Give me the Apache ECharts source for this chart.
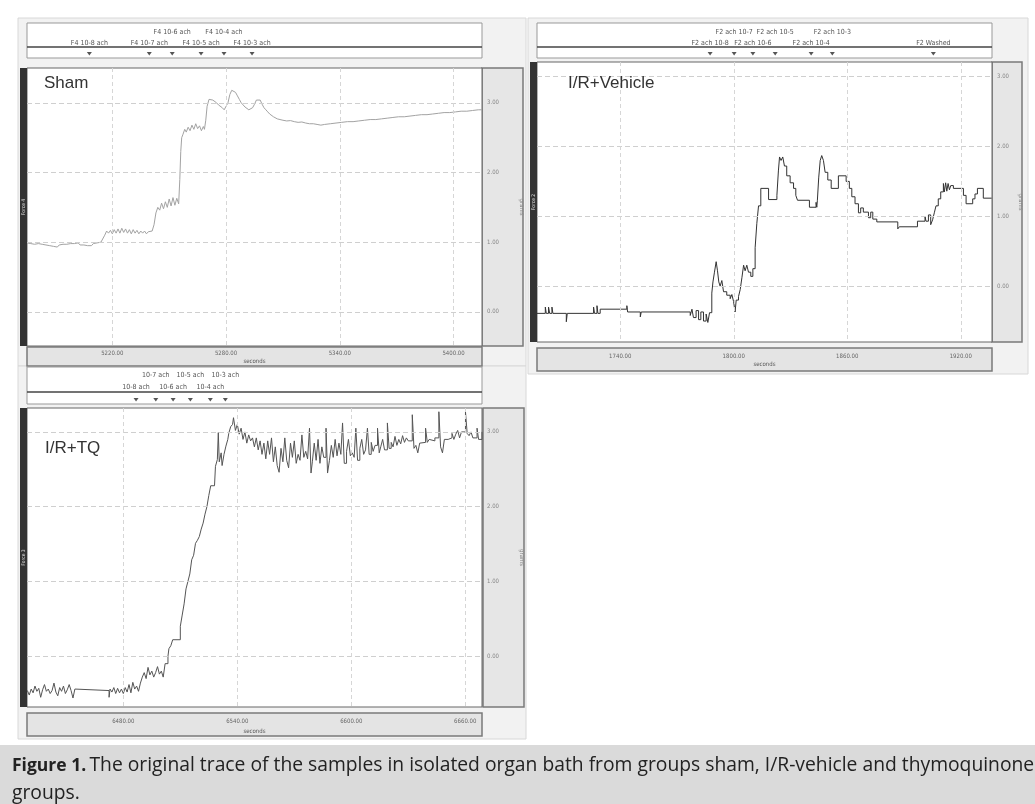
<!DOCTYPE html>
<html><head><meta charset="utf-8">
<script src="https://cdn.jsdelivr.net/npm/echarts@6/dist/echarts.min.js"></script>
<style>html,body{margin:0;padding:0;background:#fff}#c{width:1035px;height:804px}</style>
</head><body><div id="c"></div>
<script>
// ---------- DATA ----------
const yTicks = [0, 1, 2, 3];
const shamXTicks = [5220, 5280, 5340, 5400];
const vehXTicks = [1740, 1800, 1860, 1920];
const tqXTicks = [6480, 6540, 6600, 6660];

const shamEventTimes = [5207.9, 5239.5, 5251.6, 5266.8, 5278.9, 5293.7];
const shamEventLabels = ['F4 10-8 ach', 'F4 10-7 ach', 'F4 10-6 ach', 'F4 10-5 ach', 'F4 10-4 ach', 'F4 10-3 ach'];
const vehEventTimes = [1787.5, 1800.2, 1810.1, 1821.9, 1840.9, 1852.1, 1905.5];
const vehEventLabels = ['F2 ach 10-8', 'F2 ach 10-7', 'F2 ach 10-6', 'F2 ach 10-5', 'F2 ach 10-4', 'F2 ach 10-3', 'F2 Washed'];
const tqEventTimes = [6486.7, 6497.1, 6506.2, 6515.3, 6525.8, 6533.7];
const tqEventLabels = ['10-8 ach', '10-7 ach', '10-6 ach', '10-5 ach', '10-4 ach', '10-3 ach'];

// [seconds, grams]
const shamTrace = [
[5175,0.99],[5176,1.01],[5177,0.98],[5178,1.00],[5179,0.97],[5180,0.99],[5181,0.98],[5182,1.00],[5183,0.97],[5184,0.98],
[5185,0.96],[5186,0.98],[5187,0.95],[5188,0.97],[5189,0.94],[5190,0.96],[5191,0.93],[5192,0.96],[5193,0.94],[5194,0.97],
[5195,0.95],[5196,0.97],[5197,0.95],[5198,0.98],[5199,0.96],[5200,0.98],[5201,0.96],[5202,0.99],[5203,0.96],[5204,0.98],
[5205,0.96],[5206,0.98],[5207,0.95],[5208,0.97],[5209,0.95],[5210,0.98],[5211,0.96],[5212,0.99],[5213,0.98],[5214,1.00],
[5215,1.02],[5216,1.10],[5217,1.16],[5218,1.13],[5219,1.17],[5220,1.12],[5221,1.18],[5222,1.13],[5223,1.19],[5224,1.13],[5225,1.20],
[5226,1.14],[5227,1.19],[5228,1.13],[5229,1.18],[5230,1.12],[5231,1.18],[5232,1.13],[5233,1.17],[5234,1.12],[5235,1.16],
[5236,1.13],[5237,1.16],[5238,1.12],[5239,1.15],[5240,1.13],[5241,1.16],
[5242,1.25],[5243,1.42],[5244,1.50],[5245,1.46],[5246,1.56],[5247,1.48],[5248,1.58],[5249,1.50],[5250,1.62],[5251,1.52],
[5252,1.64],[5253,1.53],[5254,1.63],[5255,1.55],
[5255.6,1.90],[5256.1,2.30],[5256.6,2.50],[5257.3,2.55],[5258.2,2.62],[5259,2.58],[5260,2.65],[5261,2.60],[5262,2.68],
[5263,2.62],[5264,2.70],[5265,2.63],[5266,2.67],[5267,2.60],[5268,2.66],[5268.6,2.62],
[5269.3,2.75],[5270,2.95],[5271,3.05],[5272,3.07],[5273,3.04],[5274,3.05],[5275,3.00],[5276,2.97],[5277,2.99],[5278,2.93],
[5279,2.90],[5280,2.92],[5281,3.00],[5282,3.12],[5283,3.18],[5284,3.20],[5285,3.15],[5286,3.10],[5287,3.05],[5288,3.00],
[5289,2.97],[5290,2.94],[5291,2.92],[5292,2.90],[5293,2.91],[5294,2.93],[5295,2.98],[5296,3.04],[5297,3.05],[5298,3.04],
[5299,2.98],[5300,2.93],[5301,2.90],[5302,2.87],[5303,2.84],[5304,2.82],[5305,2.80],[5306,2.78],[5307,2.77],[5308,2.76],
[5310,2.75],[5312,2.74],[5314,2.745],[5316,2.73],[5318,2.72],[5320,2.725],[5322,2.71],[5324,2.70],[5325,2.69],[5326,2.70],
[5328,2.69],[5330,2.68],[5332,2.69],[5335,2.70],[5338,2.71],[5341,2.72],[5344,2.73],[5347,2.73],[5350,2.74],[5353,2.75],
[5356,2.76],[5359,2.76],[5362,2.77],[5365,2.78],[5368,2.79],[5371,2.80],[5374,2.80],[5377,2.81],[5378,2.80],[5380,2.82],
[5383,2.83],[5386,2.83],[5389,2.84],[5392,2.85],[5395,2.86],[5398,2.86],[5401,2.87],[5404,2.88],[5407,2.88],[5410,2.89],
[5413,2.90],[5415,2.90]
];

const vehicleTrace = [
[1696.0,-0.39],[1700.4,-0.30],[1700.9,-0.39],[1702.1,-0.30],[1702.7,-0.39],[1703.9,-0.30],[1704.4,-0.39],
[1711.5,-0.51],[1712.0,-0.39],[1725.9,-0.30],[1726.4,-0.39],[1727.7,-0.28],[1728.2,-0.39],[1729.4,-0.33],
[1743.5,-0.28],[1743.9,-0.37],[1750.6,-0.44],[1751.1,-0.37],
[1777.0,-0.42],[1777.9,-0.33],[1778.7,-0.45],[1780.1,-0.35],[1781.4,-0.48],[1782.6,-0.37],[1784.0,-0.50],[1785.4,-0.40],
[1786.3,-0.52],[1787.2,-0.38],[1788.4,-0.10],[1789.0,0.06],[1789.8,0.20],[1790.7,0.35],[1791.4,0.22],[1792.1,0.06],
[1792.8,0.00],[1793.7,0.08],[1794.6,-0.08],[1796.3,-0.13],[1798.1,-0.18],[1799.0,-0.12],[1799.9,-0.22],[1800.7,-0.37],
[1801.3,-0.20],[1802.5,-0.15],[1803.4,-0.05],[1804.3,0.12],[1805.2,0.30],[1806.0,0.22],[1806.9,0.30],[1807.8,0.20],
[1809.0,0.14],[1810.1,0.25],[1811.3,0.55],[1812.2,0.90],[1813.1,1.15],[1814.3,1.40],[1818.4,1.24],[1822.8,1.30],
[1823.6,1.65],[1824.2,1.85],[1825.0,1.80],[1825.9,1.85],[1826.8,1.72],[1828.0,1.58],[1829.8,1.48],[1831.6,1.40],
[1832.8,1.30],[1833.7,1.23],[1840.0,1.13],[1843.5,1.20],[1843.9,1.13],[1844.2,1.23],[1844.9,1.55],[1845.7,1.80],
[1846.5,1.87],[1847.4,1.80],[1848.3,1.63],[1849.7,1.52],[1851.5,1.40],[1855.3,1.58],[1859.4,1.50],[1861.1,1.40],
[1862.4,1.28],[1864.1,1.18],[1865.9,1.05],[1867.1,1.12],[1868.5,1.06],[1871.2,0.98],[1872.4,1.06],[1873.5,0.96],
[1875.6,0.92],[1886.7,0.82],[1887.5,0.85],[1897.1,0.93],[1901.1,1.00],[1901.6,0.93],[1902.9,1.02],[1904.1,0.88],
[1905.1,0.95],[1906.0,1.05],[1906.9,1.15],[1908.1,1.25],[1909.4,1.35],[1910.8,1.47],[1911.3,1.35],[1912.0,1.48],
[1912.6,1.36],[1913.3,1.47],[1914.0,1.38],[1914.7,1.44],[1916.1,1.40],[1921.4,1.30],[1922.8,1.18],[1926.3,1.25],
[1927.5,1.32],[1928.8,1.40],[1931.9,1.26],[1936.3,1.26]
];

const tqTrace = [
[6429.5,-0.46],[6430.5,-0.52],[6431.5,-0.44],[6432.5,-0.49],[6433.5,-0.40],[6434.5,-0.47],[6435.5,-0.43],[6436.5,-0.55],
[6437.5,-0.45],[6438.5,-0.38],[6439.5,-0.47],[6440.5,-0.44],[6441.5,-0.50],[6442.5,-0.46],[6443.5,-0.36],[6444.5,-0.48],
[6445.5,-0.53],[6446.5,-0.42],[6447.5,-0.47],[6448.5,-0.40],[6449.5,-0.50],[6450.5,-0.45],[6451.5,-0.38],[6452.5,-0.46],
[6453.5,-0.56],[6454.5,-0.44],[6455.5,-0.46],[6472.5,-0.55],[6473.0,-0.44],[6474,-0.48],[6475,-0.42],[6476,-0.50],
[6477,-0.43],[6478,-0.49],[6479,-0.44],[6480,-0.50],[6481,-0.42],[6482,-0.48],[6483,-0.38],[6484,-0.49],[6485,-0.35],
[6486,-0.44],[6487,-0.40],[6488,-0.47],[6489,-0.36],[6490,-0.28],[6491,-0.22],[6492,-0.30],[6493,-0.15],[6494,-0.25],
[6495,-0.20],[6496,-0.28],[6497,-0.22],[6498,-0.14],[6499,-0.24],[6500,-0.20],[6501,-0.28],[6502,-0.10],[6503.5,0.00],
[6504,0.10],[6505,0.14],[6506,0.22],[6510,0.40],[6511,0.55],[6512,0.70],[6513,0.90],[6514,1.00],[6515,1.10],[6516,1.29],
[6517,1.35],[6518,1.51],[6519,1.55],[6520,1.60],[6521,1.70],[6522,1.78],[6523,1.90],[6524,2.00],[6525,2.15],[6526,2.28],
[6528,2.30],[6528.5,2.54],[6529.5,2.63],[6530,2.99],[6530.5,2.60],[6531.5,2.72],[6532,2.55],[6533,2.70],[6534,2.81],
[6535,2.90],[6535.5,2.98],[6536.5,3.07],[6537.5,3.10],[6538,3.19],[6539,3.02],[6540,3.10],[6541,2.97],[6542,3.05],
[6543,2.90],[6544,3.00],[6545,2.85],[6546,2.96],[6547,2.88],[6548,2.92],[6549,2.80],[6550,2.92],[6551,2.76],[6552,2.88],
[6553,2.70],[6554,2.85],[6555,2.64],[6556,2.88],[6557,2.70],[6558,2.92],[6559,2.60],[6560,2.80],[6561,2.55],[6562,2.46],
[6563,2.78],[6564,2.60],[6565,2.92],[6566,2.62],[6567,2.52],[6568,2.85],[6569,2.66],[6570,2.88],[6571,2.58],[6572,2.70],
[6573,2.62],[6574,2.96],[6575,2.66],[6576,2.74],[6577,2.64],[6578,3.05],[6578.8,2.45],[6579.5,2.60],[6580.5,2.85],
[6581.5,2.62],[6582.5,2.90],[6583.5,2.58],[6584.5,2.80],[6585.5,2.66],[6586.7,3.05],[6587.5,2.45],[6588.5,2.62],
[6589.5,2.82],[6590.5,2.66],[6591.5,2.90],[6592.5,2.68],[6593.5,2.85],[6594.5,2.70],[6595.4,3.12],[6596.3,2.58],
[6597.5,2.74],[6598.5,2.90],[6599.5,2.68],[6600.5,2.72],[6601.5,2.66],[6602.4,3.05],[6603.3,2.62],[6604.5,2.78],
[6605.5,2.90],[6606.5,2.70],[6607.5,2.76],[6608.5,3.05],[6609.4,2.70],[6610.5,2.86],[6611.5,2.74],[6612.5,2.82],
[6613.8,3.05],[6614.7,2.72],[6615.5,2.80],[6616.5,2.90],[6617.5,2.76],[6619.0,3.12],[6619.9,2.78],[6621,2.86],[6622,2.80],
[6623,2.94],[6624,2.82],[6625,2.90],[6626,2.84],[6627,2.95],[6628,2.86],[6629,2.92],[6630,2.88],[6632.1,3.23],[6633,2.78],
[6634,2.82],[6635,2.72],[6636,2.85],[6637,2.86],[6639.1,3.05],[6640,2.86],[6641,2.90],[6642,2.88],[6644,2.92],[6646.1,3.27],
[6647,2.80],[6648,2.72],[6649,2.90],[6651,2.92],[6653,2.98],[6654,2.90],[6655,2.97],[6656,3.02],[6657,2.92],[6658,3.00],
[6660.1,3.27],[6661,2.98],[6662,2.95],[6663,3.00],[6664,2.92],[6666.2,3.05],[6667,2.90],[6668.8,3.00]
];

// ---------- LAYOUT ----------
const P = [
  { name:'Sham', force:'Force 4', trace:shamTrace, xt:shamXTicks, ev:shamEventTimes, evl:shamEventLabels,
    xmin:5175, xmax:5415, ymin:-0.49, ymax:3.5,
    plot:{x:27,y:68,w:455,h:278}, strip:{x:27,y:23,w:455,h:35}, div:11, axisBox:{y:347,h:19}, lblM:4, nameG:12,
    rp:{x:482,w:41}, color:'#a3a3a3', step:false, lab:{x:44,y:83}, box:{x:18,y:18,w:508,h:348} },
  { name:'I/R+Vehicle', force:'Force 2', trace:vehicleTrace, xt:vehXTicks, ev:vehEventTimes, evl:vehEventLabels,
    xmin:1696, xmax:1936.5, ymin:-0.8, ymax:3.21,
    plot:{x:537,y:62,w:455,h:280}, strip:{x:537,y:23,w:455,h:35}, div:11, axisBox:{y:348,h:23}, lblM:11, nameG:19,
    rp:{x:992,w:30}, color:'#333', step:'end', lab:{x:568,y:83}, box:{x:528,y:18,w:500,h:356} },
  { name:'I/R+TQ', force:'Force 3', trace:tqTrace, xt:tqXTicks, ev:tqEventTimes, evl:tqEventLabels,
    xmin:6429.3, xmax:6668.8, ymin:-0.68, ymax:3.32,
    plot:{x:27,y:408,w:455,h:299}, strip:{x:27,y:367,w:455,h:37}, div:12, axisBox:{y:713,h:23}, lblM:11, nameG:21,
    rp:{x:483,w:41}, color:'#555', step:'end', lab:{x:45,y:448}, box:{x:18,y:366,w:508,h:373} }
];

function rowsFor(times){ // upper row when too close to previous lower-row label
  const r=[]; let lastLow=-1e9;
  times.forEach(t=>{ if(t-lastLow<16){r.push(1);} else {r.push(0); lastLow=t;} });
  return r;
}

const grid=[], xAxis=[], yAxis=[], series=[], graphic=[];
const narrow = '"DejaVu Sans Condensed", "DejaVu Sans", sans-serif';

P.forEach((p,i)=>{
  graphic.push({type:'rect', z:-20, shape:{x:p.box.x, y:p.box.y, width:p.box.w, height:p.box.h}, style:{fill:'#f2f2f2', stroke:'#d8d8d8', lineWidth:1}});
  graphic.push({type:'rect', z:-10, shape:{x:p.rp.x, y:p.plot.y, width:p.rp.w, height:p.plot.h}, style:{fill:'#e6e6e6', stroke:'#7a7a7a', lineWidth:1.5}});
  graphic.push({type:'rect', z:-10, shape:{x:p.plot.x, y:p.axisBox.y, width:p.plot.w, height:p.axisBox.h}, style:{fill:'#e4e4e4', stroke:'#7a7a7a', lineWidth:1.5}});
  graphic.push({type:'rect', z:10, shape:{x:p.plot.x-7, y:p.plot.y, width:7, height:p.plot.h}, style:{fill:'#333'}});
  graphic.push({type:'text', z:11, x:p.plot.x-3.5, y:p.plot.y+p.plot.h/2, rotation:Math.PI/2,
    style:{text:p.force, fontSize:5, fill:'#ddd', align:'center', verticalAlign:'middle', fontFamily:narrow}});
  graphic.push({type:'line', z:10, shape:{x1:p.strip.x, y1:p.strip.y+p.strip.h-p.div, x2:p.strip.x+p.strip.w, y2:p.strip.y+p.strip.h-p.div}, style:{stroke:'#444', lineWidth:1.5}});
  graphic.push({type:'text', z:10, x:p.lab.x, y:p.lab.y, style:{text:p.name, fontSize:17, fill:'#333', fontFamily:'"Liberation Sans", Arial, sans-serif', verticalAlign:'middle'}});

  grid.push({left:p.plot.x, top:p.plot.y, width:p.plot.w, height:p.plot.h, show:true, backgroundColor:'#fff', borderColor:'#666', borderWidth:1});
  xAxis.push({type:'value', gridIndex:i, min:p.xmin, max:p.xmax, z:5,
    axisLine:{show:false},
    axisTick:{show:false, customValues:p.xt},
    axisLabel:{customValues:p.xt, fontSize:6, color:'#666', margin:p.lblM, fontFamily:narrow, formatter:v=>v.toFixed(2)},
    splitLine:{show:true, lineStyle:{color:'#d6d6d6', type:[4,3], width:1}},
    name:'seconds', nameLocation:'middle', nameGap:p.nameG, nameTextStyle:{fontSize:6, color:'#555', fontFamily:narrow}});
  yAxis.push({type:'value', gridIndex:i, position:'right', min:p.ymin, max:p.ymax, z:5,
    axisLine:{show:false},
    axisTick:{show:false, customValues:yTicks},
    axisLabel:{customValues:yTicks, fontSize:6, color:'#888', margin:5, fontFamily:narrow, formatter:v=>v.toFixed(2)},
    splitLine:{show:true, lineStyle:{color:'#cfcfcf', type:[5,3], width:1}},
    name:'grams', nameLocation:'middle', nameRotate:-90, nameGap:p.rp.w-4, nameTextStyle:{fontSize:6, color:'#888', fontFamily:narrow}});
  series.push({type:'line', xAxisIndex:i, yAxisIndex:i, data:p.trace, showSymbol:false, symbol:'none', step:p.step,
    lineStyle:{color:p.color, width:1}, animation:false, z:3});
});

P.forEach((p,i)=>{
  const gi = 3+i;
  grid.push({left:p.strip.x, top:p.strip.y, width:p.strip.w, height:p.strip.h, show:true, backgroundColor:'#fff', borderColor:'#999', borderWidth:1});
  xAxis.push({type:'value', gridIndex:gi, min:p.xmin, max:p.xmax, show:false});
  yAxis.push({type:'value', gridIndex:gi, min:0, max:1, show:false});
  const rows = rowsFor(p.ev);
  const tq = (i===2);
  series.push({type:'custom', xAxisIndex:gi, yAxisIndex:gi, animation:false, z:12,
    data:p.ev.map(t=>[t,0]),
    renderItem:(params, api)=>{
      const c = api.coord([api.value(0), 0]);
      const cs = params.coordSys;
      const bottom = cs.y + cs.height;
      const divY = bottom - p.div;
      const r = rows[params.dataIndex];
      const ly = divY - (tq?5:4) - (r ? (tq?12:11) : 0);
      return {type:'group', children:[
        {type:'polygon', shape:{points:[[c[0]-2.5,bottom-6],[c[0]+2.5,bottom-6],[c[0],bottom-2.5]]}, style:{fill:'#555'}},
        {type:'text', x:c[0], y:ly, style:{text:p.evl[params.dataIndex], fontSize:7, fill:'#555', align:'center', verticalAlign:'middle', fontFamily:narrow}}
      ]};
    }});
});

// caption
graphic.push({type:'rect', z:-10, shape:{x:0, y:745, width:1035, height:59}, style:{fill:'#dadada'}});
graphic.push({type:'text', z:10, x:12, y:766, style:{
  rich:{b:{fontWeight:'bold', fontSize:17.5, fill:'#222', fontFamily:'Open Sans'},
        n:{fontSize:19.3, fill:'#222', fontFamily:'Open Sans'}},
  text:'{b|Figure 1.} {n|The original trace of the samples in isolated organ bath from groups sham, I/R-vehicle and thymoquinone}', verticalAlign:'middle'}});
graphic.push({type:'text', z:10, x:12, y:794, style:{text:'groups.', fontSize:19.3, fill:'#222', fontFamily:'Open Sans', verticalAlign:'middle'}});

const chart = echarts.init(document.getElementById('c'), null, {renderer:'canvas'});
chart.setOption({backgroundColor:'#fff', animation:false, grid, xAxis, yAxis, series, graphic});
</script></body></html>
